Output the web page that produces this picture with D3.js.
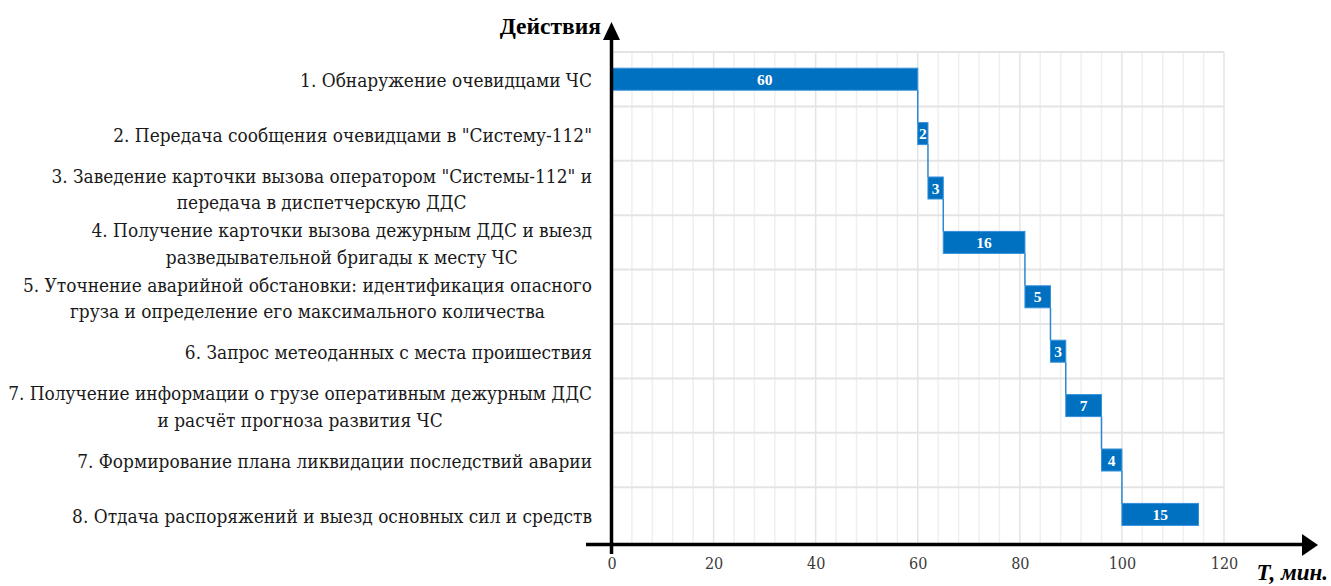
<!DOCTYPE html>
<html>
<head>
<meta charset="utf-8">
<script src="https://cdn.jsdelivr.net/npm/d3@7"></script>
<style>
  html, body { margin: 0; padding: 0; background: #fff; }
  svg { display: block; }
  .lbl { font-family: 'DejaVu Serif Condensed', 'DejaVu Serif', serif; font-stretch: condensed; }
</style>
</head>
<body>
<svg id="chart" width="1331" height="586"></svg>
<script>
// Actions (lines of each label separated by "\n")
const categories = [
  "1. Обнаружение очевидцами ЧС",
  "2. Передача сообщения очевидцами в \"Систему-112\"",
  "3. Заведение карточки вызова оператором \"Системы-112\" и\nпередача в диспетчерскую ДДС",
  "4. Получение карточки вызова дежурным ДДС и выезд\nразведывательной бригады к месту ЧС",
  "5. Уточнение аварийной обстановки: идентификация опасного\nгруза и определение его максимального количества",
  "6. Запрос метеоданных с места проишествия",
  "7. Получение информации о грузе оперативным дежурным ДДС\nи расчёт прогноза развития ЧС",
  "7. Формирование плана ликвидации последствий аварии",
  "8. Отдача распоряжений и выезд основных сил и средств"
];

// Duration of each action, minutes
const durations = [60, 2, 3, 16, 5, 3, 7, 4, 15];

// Time axis ticks
const xTicks = [0, 20, 40, 60, 80, 100, 120];

const yTitle = "Действия";
const xTitle = "Т, мин.";

const FONT = "'Liberation Serif', 'Times New Roman', serif";

// Each action starts when the previous one ends
const starts = [];
durations.reduce((acc, d) => { starts.push(acc); return acc + d; }, 0);
const tasks = categories.map((c, i) => ({ cat: c, start: starts[i], dur: durations[i] }));

const svg = d3.select("#chart").style("font-family", FONT);

const x = d3.scaleLinear().domain([0, 120]).range([611.5, 1224]);
const y = d3.scaleBand().domain(categories).range([52, 541.6]).padding(0);
const bw = y.bandwidth();
const barH = 22;

const BLUE = "#0070c0";

// Grid: minor verticals every 4 min, majors every 20
const grid = svg.append("g");
grid.selectAll("line.minor")
  .data(d3.range(4, 121, 4).filter(v => v % 20 !== 0))
  .join("line")
  .attr("x1", d => x(d)).attr("x2", d => x(d))
  .attr("y1", 52).attr("y2", 543)
  .attr("stroke", "#efefef").attr("stroke-width", 1.5);
grid.selectAll("line.major")
  .data(d3.range(20, 121, 20))
  .join("line")
  .attr("x1", d => x(d)).attr("x2", d => x(d))
  .attr("y1", 52).attr("y2", 543)
  .attr("stroke", "#e4e4e4").attr("stroke-width", 1.5);
// Horizontal lines at row boundaries
const rowEdges = categories.map(c => y(c));
grid.selectAll("line.row")
  .data(rowEdges)
  .join("line")
  .attr("x1", x(0)).attr("x2", x(120))
  .attr("y1", d => d).attr("y2", d => d)
  .attr("stroke", "#e4e4e4").attr("stroke-width", 2);

// Connectors between successive actions
const conn = svg.append("g");
conn.selectAll("line")
  .data(tasks.slice(0, -1))
  .join("line")
  .attr("x1", d => x(d.start + d.dur)).attr("x2", d => x(d.start + d.dur))
  .attr("y1", d => y(d.cat) + (bw + barH) / 2)
  .attr("y2", (d, i) => y(tasks[i + 1].cat) + (bw - barH) / 2)
  .attr("stroke", "#2b86d4").attr("stroke-width", 1.5);

// Bars
const bars = svg.append("g");
bars.selectAll("rect")
  .data(tasks)
  .join("rect")
  .attr("x", d => x(d.start))
  .attr("y", d => y(d.cat) + (bw - barH) / 2)
  .attr("width", d => Math.max(x(d.start + d.dur) - x(d.start), 0))
  .attr("height", barH)
  .attr("fill", BLUE)
  .attr("stroke", "#3590da").attr("stroke-width", 1);

bars.selectAll("text")
  .data(tasks)
  .join("text")
  .attr("x", d => x(d.start + d.dur / 2))
  .attr("y", d => y(d.cat) + bw / 2)
  .attr("dy", "0.36em")
  .attr("text-anchor", "middle")
  .attr("fill", "#fff")
  .attr("font-weight", "bold")
  .attr("font-size", 15.5)
  .text(d => d.dur);

// Category labels
const labels = svg.append("g").attr("class", "lbl");
labels.selectAll("text")
  .data(categories)
  .join("text")
  .attr("fill", "#1a1a1a")
  .attr("font-size", 18.9)
  .each(function (d) {
    const lines = d.split("\n");
    const t = d3.select(this);
    const lh = 26.5;
    const cy = y(d) + bw / 2 + 1.5;
    lines.forEach((ln, i) => {
      t.append("tspan")
        .attr("x", 592)
        .attr("text-anchor", "end")
        .attr("y", cy + (i - (lines.length - 1) / 2) * lh)
        .attr("dy", "0.35em")
        .text(ln);
    });
  });
// Second lines of the two-line labels are centred under the first line
labels.selectAll("text").each(function () {
  const spans = d3.select(this).selectAll("tspan").nodes();
  if (spans.length > 1) {
    const w0 = spans[0].getComputedTextLength();
    const cx = 592 - w0 / 2;
    spans.slice(1).forEach(s => d3.select(s).attr("x", cx).attr("text-anchor", "middle"));
  }
});

// X axis with tick labels only
const xAxis = d3.axisBottom(x).tickValues(xTicks).tickSize(0).tickPadding(14);
const gx = svg.append("g").attr("transform", "translate(0,544)").call(xAxis);
gx.select(".domain").remove();
gx.attr("font-family", null).attr("class", "lbl");
gx.selectAll("text")
  .attr("font-size", 16)
  .attr("fill", "#3a3a3a");

// Axis lines with arrows
svg.append("line")
  .attr("x1", 586).attr("x2", 1304)
  .attr("y1", 544.5).attr("y2", 544.5)
  .attr("stroke", "#000").attr("stroke-width", 3.5);
svg.append("path")
  .attr("d", "M1302,534 L1318,545 L1302,556 Z")
  .attr("fill", "#000");
svg.append("line")
  .attr("x1", x(0)).attr("x2", x(0))
  .attr("y1", 36).attr("y2", 554)
  .attr("stroke", "#000").attr("stroke-width", 3.5);
svg.append("path")
  .attr("d", `M${x(0) - 8.5},40 L${x(0)},22 L${x(0) + 8.5},40 Z`)
  .attr("fill", "#000");

// Axis titles
svg.append("text")
  .attr("x", 601).attr("y", 34)
  .attr("text-anchor", "end")
  .attr("font-weight", "bold")
  .attr("font-size", 23.5)
  .attr("fill", "#000")
  .text(yTitle);
svg.append("text")
  .attr("x", 1328).attr("y", 580)
  .attr("text-anchor", "end")
  .attr("font-weight", "bold")
  .attr("font-style", "italic")
  .attr("font-size", 23)
  .attr("fill", "#000")
  .text(xTitle);
</script>
</body>
</html>
